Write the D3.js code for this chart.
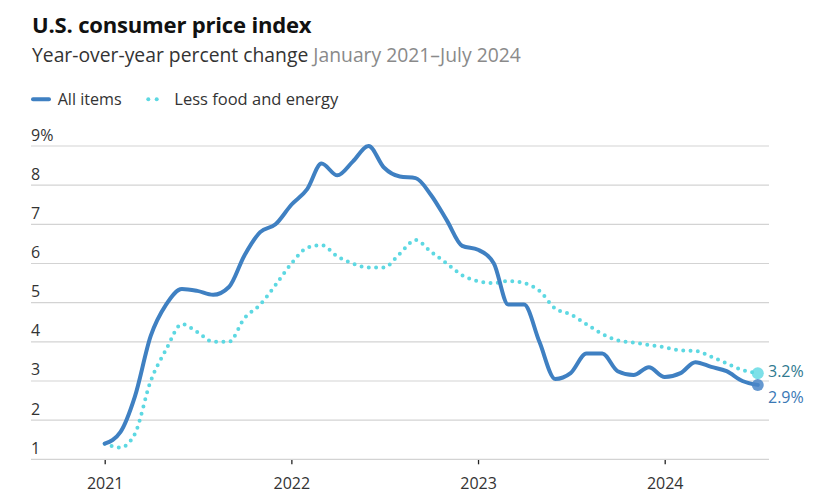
<!DOCTYPE html>
<html><head><meta charset="utf-8">
<script src="https://cdn.jsdelivr.net/npm/d3@7"></script>
<style>
html,body{margin:0;padding:0;background:#fff;}
svg text{font-family:"Open Sans",Lato,sans-serif;}
</style></head>
<body><svg id="c" width="826" height="504"></svg>
<script>
const months = d3.range(0, 43).map(i => new Date(2021, i, 1));
const allItems = [
  1.4, 1.7, 2.6, 4.15, 4.95, 5.35, 5.3, 5.2, 5.4, 6.2, 6.8, 7.0,
  7.5, 7.9, 8.55, 8.25, 8.6, 9.0, 8.45, 8.22, 8.18, 7.75, 7.1, 6.45,
  6.35, 6.0, 4.95, 4.95, 4.0, 3.05, 3.2, 3.7, 3.7, 3.25, 3.15, 3.35,
  3.1, 3.2, 3.48, 3.36, 3.25, 3.0, 2.9
];
const core = [
  1.4, 1.3, 1.65, 3.0, 3.8, 4.45, 4.25, 4.0, 4.0, 4.6, 4.95, 5.45,
  6.0, 6.4, 6.47, 6.18, 6.0, 5.9, 5.9, 6.25, 6.6, 6.3, 6.0, 5.7,
  5.55, 5.5, 5.55, 5.5, 5.3, 4.85, 4.7, 4.45, 4.2, 4.04, 3.98, 3.92,
  3.86, 3.78, 3.77, 3.62, 3.45, 3.28, 3.2
];
const yTicks = [1, 2, 3, 4, 5, 6, 7, 8, 9];
const xTickYears = [2021, 2022, 2023, 2024];
const seriesNames = ["All items", "Less food and energy"];
const colors = {all: "#3f80c2", core: "#5dd8e2"};

const svg = d3.select("#c");
const left = 31, right = 769;
const x = d3.scaleTime().domain([new Date(2021,0,1), new Date(2024,0,1)]).range([104.7, 664.7]);
const y = d3.scaleLinear().domain([1, 9]).range([459.3, 146]);

// fit a text element's font size so that its width matches the target width
function fit(sel, target) {
  const node = sel.node();
  const fs = parseFloat(sel.attr("font-size"));
  const w = node.getComputedTextLength();
  if (w > 0) sel.attr("font-size", (fs * target / w).toFixed(2));
  return sel;
}

// title
fit(svg.append("text").attr("x", 32).attr("y", 33).attr("font-size", 20).attr("font-weight", 700)
  .attr("fill", "#111").attr("letter-spacing", -0.2).text("U.S. consumer price index"), 279);
const sub = svg.append("text").attr("x", 32).attr("y", 61.5).attr("font-size", 17).attr("fill", "#333");
sub.append("tspan").text("Year-over-year percent change ");
sub.append("tspan").attr("fill", "#8a8a8a").text("January 2021\u2013July 2024");
fit(sub, 489);

// legend
svg.append("line").attr("x1", 33).attr("x2", 49).attr("y1", 99.3).attr("y2", 99.3)
  .attr("stroke", colors.all).attr("stroke-width", 4).attr("stroke-linecap", "round");
fit(svg.append("text").attr("x", 57.7).attr("y", 105).attr("font-size", 15).attr("fill", "#333").text(seriesNames[0]), 64);
[148.3, 156.7].forEach(cx => svg.append("circle").attr("cx", cx).attr("cy", 99.3).attr("r", 2).attr("fill", colors.core));
fit(svg.append("text").attr("x", 174.3).attr("y", 105).attr("font-size", 15).attr("fill", "#333").text(seriesNames[1]), 164);

// grid + y labels
const g = svg.append("g");
yTicks.forEach(v => {
  if (v > 1) g.append("line").attr("x1", left).attr("x2", right).attr("y1", y(v)).attr("y2", y(v))
    .attr("stroke", "#d3d3d3").attr("stroke-width", 1.2);
  g.append("text").attr("x", left).attr("y", y(v) - 5.5).attr("font-size", 16).attr("fill", "#333")
    .text(v === 9 ? v + "%" : v);
});

// x axis
const xAxis = d3.axisBottom(x).tickValues(xTickYears.map(yy => new Date(yy,0,1)))
  .tickFormat(d3.timeFormat("%Y")).tickSize(5).tickSizeOuter(0);
const ax = svg.append("g").attr("transform", `translate(0,${y(1)})`).call(xAxis);
ax.select(".domain").remove();
ax.selectAll(".tick line").attr("stroke", "#222").attr("stroke-width", 1.3);
ax.selectAll(".tick text").attr("font-size", 16).attr("fill", "#333").attr("dy", 0).attr("y", 29.7)
  .style("font-family", "'Open Sans', Lato, sans-serif");
svg.append("line").attr("x1", left).attr("x2", right).attr("y1", y(1)).attr("y2", y(1))
  .attr("stroke", "#d3d3d3").attr("stroke-width", 1.3);

// lines
const line = d3.line().x((d, i) => x(months[i])).y(d => y(d)).curve(d3.curveMonotoneX);
svg.append("path").datum(core).attr("d", line).attr("fill", "none").attr("stroke", colors.core)
  .attr("stroke-width", 4).attr("stroke-linecap", "round").attr("stroke-dasharray", "0 7.3");
svg.append("path").datum(allItems).attr("d", line).attr("fill", "none").attr("stroke", colors.all)
  .attr("stroke-width", 4).attr("stroke-linecap", "round").attr("stroke-linejoin", "round");

// end markers
const last = months.length - 1;
svg.append("circle").attr("cx", x(months[last])).attr("cy", y(core[last])).attr("r", 6)
  .attr("fill", colors.core).attr("opacity", 0.8);
svg.append("circle").attr("cx", x(months[last])).attr("cy", y(allItems[last])).attr("r", 6)
  .attr("fill", "#4a86c8").attr("opacity", 0.85);
svg.append("text").attr("x", 768).attr("y", y(core[last]) + 4).attr("font-size", 16).attr("fill", "#2f7a90")
  .text(d3.format(".1f")(core[last]) + "%");
svg.append("text").attr("x", 768).attr("y", y(allItems[last]) + 18).attr("font-size", 16).attr("fill", "#3a78b5")
  .text(d3.format(".1f")(allItems[last]) + "%");
</script></body></html>
